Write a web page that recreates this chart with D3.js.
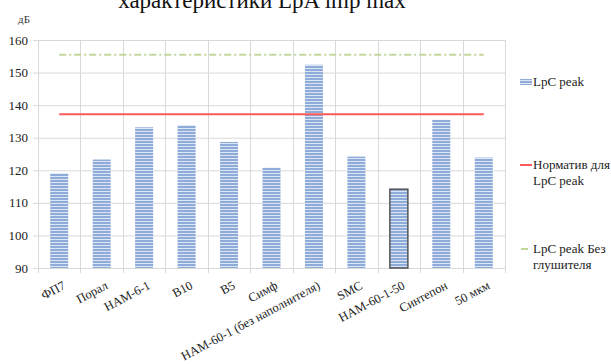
<!DOCTYPE html>
<html><head><meta charset="utf-8">
<script src="https://cdn.jsdelivr.net/npm/d3@7"></script>
<style>
html,body{margin:0;padding:0;background:#fff;}
svg text{font-family:"Liberation Serif","DejaVu Serif",serif;}
</style></head>
<body>
<svg id="c" width="611" height="364"></svg>
<script>
const categories = ["ФП7","Порал","НАМ-6-1","В10","В5","Симф","НАМ-60-1 (без наполнителя)","SMC","НАМ-60-1-50","Синтепон","50 мкм"];
const lpcPeak = [119.1, 123.3, 133.2, 133.8, 128.7, 120.8, 152.4, 124.2, 114.2, 135.5, 123.9];
const normLpc = [137.2, 137.2, 137.2, 137.2, 137.2, 137.2, 137.2, 137.2, 137.2, 137.2, 137.2];
const noMuffler = [155.5, 155.5, 155.5, 155.5, 155.5, 155.5, 155.5, 155.5, 155.5, 155.5, 155.5];
const yTicks = [90,100,110,120,130,140,150,160];
const highlighted = "НАМ-60-1-50";
const titleText = "характеристики LpA imp max";
const yUnit = "дБ";
const legendItems = [
  {type:"bar", lines:["LpC peak"]},
  {type:"red", lines:["Норматив для","LpC peak"]},
  {type:"green", lines:["LpC peak Без","глушителя"]}
];

const FONT = "'Liberation Serif', 'DejaVu Serif', serif";
const svg = d3.select("#c");
const L = 38, R = 505, T = 40, B = 268;

const defs = svg.append("defs");
const pat = defs.append("pattern").attr("id","stripes").attr("patternUnits","userSpaceOnUse")
  .attr("width",4).attr("height",3);
pat.append("rect").attr("width",4).attr("height",3).attr("fill","#dbe5f3");
pat.append("rect").attr("width",4).attr("height",2).attr("fill","#8fabd9");

const x = d3.scaleBand().domain(categories).range([L,R]).paddingInner(0).paddingOuter(0);
const y = d3.scaleLinear().domain([90,160]).range([B,T]);

// title (cut off at top as in the reference)
svg.append("text").attr("x",262).attr("y",8).attr("text-anchor","middle")
  .attr("font-family",FONT).attr("font-size",23).attr("fill","#111").text(titleText);

svg.append("text").attr("x",24).attr("y",23).attr("text-anchor","middle")
  .attr("font-family",FONT).attr("font-size",11).attr("fill","#333").text(yUnit);

// grid
const grid = svg.append("g");
grid.selectAll("line.h").data(yTicks).join("line")
  .attr("x1",L-5).attr("x2",R).attr("y1",d=>y(d)+0.5).attr("y2",d=>y(d)+0.5)
  .attr("stroke","#d9d9d9").attr("stroke-width",1);
const vx = categories.map(c=>x(c)).concat([R]);
grid.selectAll("line.v").data(vx).join("line")
  .attr("x1",d=>Math.round(d)+0.5).attr("x2",d=>Math.round(d)+0.5)
  .attr("y1",T).attr("y2",B+5)
  .attr("stroke","#d9d9d9").attr("stroke-width",1);

// y labels
svg.append("g").selectAll("text").data(yTicks).join("text")
  .attr("x",28).attr("y",d=>y(d)+4.5).attr("text-anchor","end")
  .attr("font-family",FONT).attr("font-size",13).attr("fill","#222").text(d=>d);

// bars
const bw = 18;
svg.append("g").selectAll("rect").data(categories).join("rect")
  .attr("x",(d)=>x(d)+x.bandwidth()/2-bw/2)
  .attr("y",(d,i)=>y(lpcPeak[i]))
  .attr("width",bw)
  .attr("height",(d,i)=>y(90)-y(lpcPeak[i]))
  .attr("fill","url(#stripes)")
  .attr("stroke",d=>d===highlighted?"#555":"none")
  .attr("stroke-width",1.5);

// lines
const line = d3.line().x((d,i)=>x(categories[i])+x.bandwidth()/2).y(d=>y(d));
svg.append("path").datum(noMuffler).attr("d",line).attr("fill","none")
  .attr("stroke","#c3d69b").attr("stroke-width",2).attr("stroke-dasharray","7,3,2,3");
svg.append("path").datum(normLpc).attr("d",line).attr("fill","none")
  .attr("stroke","#ff5b5b").attr("stroke-width",2);

// x labels
svg.append("g").selectAll("text").data(categories).join("text")
  .attr("transform",d=>`translate(${x(d)+x.bandwidth()/2+7},${B+20}) rotate(-28)`)
  .attr("text-anchor","end").attr("font-family",FONT).attr("font-size",12.5).attr("fill","#222").text(d=>d);

// legend
const lg = svg.append("g");
const ly = [82, 165, 249];
legendItems.forEach((it,k)=>{
  const yy = ly[k];
  if(it.type==="bar"){
    lg.append("rect").attr("x",520).attr("y",yy-3).attr("width",12).attr("height",6).attr("fill","url(#stripes)");
  } else if(it.type==="red"){
    lg.append("line").attr("x1",520).attr("x2",532).attr("y1",yy).attr("y2",yy).attr("stroke","#ff5b5b").attr("stroke-width",2);
  } else {
    lg.append("line").attr("x1",521).attr("x2",528).attr("y1",yy).attr("y2",yy).attr("stroke","#c3d69b").attr("stroke-width",2);
  }
  it.lines.forEach((t,j)=>{
    lg.append("text").attr("x",533).attr("y",yy+4+j*16).attr("font-family",FONT)
      .attr("font-size",13).attr("fill","#222").text(t);
  });
});
</script>
</body></html>
